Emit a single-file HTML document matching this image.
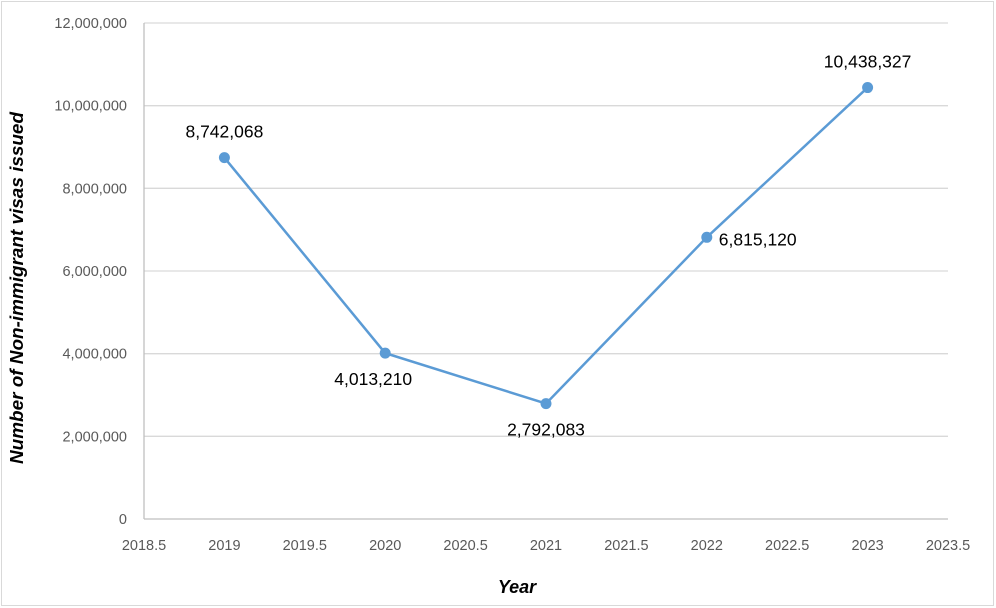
<!DOCTYPE html>
<html><head><meta charset="utf-8"><style>
html,body{margin:0;padding:0;background:#fff;}
svg{display:block;font-family:"Liberation Sans",Calibri,sans-serif;}
</style></head><body>
<svg id="chart" width="996" height="608">
<rect x="1.5" y="1.5" width="992" height="604" fill="#fff" stroke="#d9d9d9"/>
<g id="grid"></g><g id="axes"></g><g id="series"></g>
<text x="0" y="0" transform="translate(23,288) rotate(-90)" text-anchor="middle" font-size="18.5" font-weight="bold" font-style="italic" fill="#000" textLength="352" lengthAdjust="spacingAndGlyphs">Number of Non-immigrant visas issued</text>
<text x="517" y="593" text-anchor="middle" font-size="18" font-weight="bold" font-style="italic" fill="#000">Year</text>
</svg>
<script>
const years=[2019,2020,2021,2022,2023];
const visas=[8742068,4013210,2792083,6815120,10438327];
const valueLabels=["8,742,068","4,013,210","2,792,083","6,815,120","10,438,327"];
const yTicks=[0,2000000,4000000,6000000,8000000,10000000,12000000];
const yTickLabels=["0","2,000,000","4,000,000","6,000,000","8,000,000","10,000,000","12,000,000"];
const xTicks=[2018.5,2019,2019.5,2020,2020.5,2021,2021.5,2022,2022.5,2023,2023.5];
const xTickLabels=["2018.5","2019","2019.5","2020","2020.5","2021","2021.5","2022","2022.5","2023","2023.5"];
const labelPos=["above","belowleft","below","right","above"];
const L=144,R=948,T=23,B=519;
const xs=v=>L+(v-2018.5)/5*(R-L);
const ys=v=>B-v/12000000*(B-T);
const NS="http://www.w3.org/2000/svg";
function mk(tag,attrs,parent,txt){const e=document.createElementNS(NS,tag);for(const k in attrs)e.setAttribute(k,attrs[k]);if(txt!==undefined)e.textContent=txt;document.getElementById(parent).appendChild(e);return e;}
yTicks.forEach((t,i)=>{
  if(t>0){const g=mk('line',{x1:L,x2:R,y1:ys(t),y2:ys(t),stroke:'#d9d9d9','stroke-width':1.3},'grid');
  
  }
  const tx=mk('text',{x:L-17,y:ys(t)+5,'text-anchor':'end','font-size':14.5,fill:'#595959'},'axes',yTickLabels[i]);
  
  
});
const ax1=mk('line',{x1:L,x2:L,y1:T,y2:B,stroke:'#bfbfbf','stroke-width':1.3},'axes');


const ax2=mk('line',{x1:L,x2:R,y1:B,y2:B,stroke:'#bfbfbf','stroke-width':1.3},'axes');


xTicks.forEach((t,i)=>{
  const tx=mk('text',{x:xs(t),y:B+31,'text-anchor':'middle','font-size':14.5,fill:'#595959'},'axes',xTickLabels[i]);
  
  
});
const pts=years.map((y,i)=>xs(y)+','+ys(visas[i])).join(' ');
const pl=mk('polyline',{points:pts,fill:'none',stroke:'#5b9bd5','stroke-width':2.5},'series');


years.forEach((y,i)=>{
  const cx=xs(y),cy=ys(visas[i]);
  const c=mk('circle',{cx:cx,cy:cy,r:5.5,fill:'#5b9bd5'},'series');
  
  
  let lx=cx,ly=cy-20,anc='middle';
  if(labelPos[i]==='below'){ly=cy+32;}
  if(labelPos[i]==='belowleft'){ly=cy+32;lx=cx-12;}
  if(labelPos[i]==='right'){lx=cx+12;ly=cy+8;anc='start';}
  const t=mk('text',{x:lx,y:ly,'text-anchor':anc,'font-size':17.5,fill:'#000'},'series',valueLabels[i]);
  
  
});
</script>
</body></html>
